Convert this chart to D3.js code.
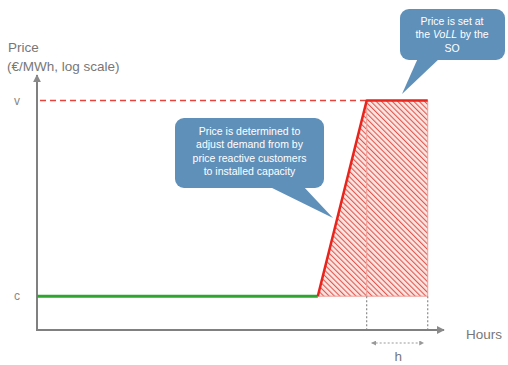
<!DOCTYPE html>
<html>
<head>
<meta charset="utf-8">
<script src="https://cdn.jsdelivr.net/npm/d3@7"></script>
<style>
  body { margin: 0; background: #fff; }
  svg { display: block; font-family: "Liberation Sans", Arial, sans-serif; }
</style>
</head>
<body>
<div id="chart"></div>
<script>
// Stylised price curve: hours on x, price on log scale on y
const axisHours = [0, 100];        // x axis extent
const axisPrice = [10, 10000];     // y axis extent (log)
const priceC = 25;                 // "c"
const priceV = 5000;               // "v"
const flatEnd = 69;                // hours where price leaves c
const rampEnd = 81;                // hours where price reaches v
const capEnd = 96;                 // end of VoLL period
const greenLine = [[0, priceC], [flatEnd, priceC]];
const redLine = [[flatEnd, priceC], [rampEnd, priceV], [capEnd, priceV]];
const hatchArea = [[flatEnd, priceC], [rampEnd, priceV], [capEnd, priceV], [capEnd, priceC]];
const yTicks = [{ label: "v", value: priceV }, { label: "c", value: priceC }];
const note1 = ["Price is determined to", "adjust demand from by", "price reactive customers", "to installed capacity"];
const note2 = [["Price is set at"], ["the ", "VoLL", " by the"], ["SO"]];

const width = 508, height = 365;
const svg = d3.select("#chart").append("svg")
  .attr("width", width).attr("height", height);

const x = d3.scaleLinear().domain(axisHours).range([37, 444]);
const y = d3.scaleLog().domain(axisPrice).range([330, 75]);

const defs = svg.append("defs");
const pw = 3.8;
const pat = defs.append("pattern")
  .attr("id", "hatch").attr("patternUnits", "userSpaceOnUse")
  .attr("width", pw).attr("height", pw)
  .attr("patternTransform", "rotate(-45)");
pat.append("rect").attr("width", pw).attr("height", pw).attr("fill", "#fde6e2");
pat.append("line").attr("x1", 0).attr("y1", 0).attr("x2", 0).attr("y2", pw)
  .attr("stroke", "#dd5850").attr("stroke-width", 2.2);

["arrowGray", "arrowSmall"].forEach((id, i) => {
  defs.append("marker")
    .attr("id", id).attr("viewBox", "0 0 10 10")
    .attr("refX", 9).attr("refY", 5)
    .attr("markerWidth", i ? 5 : 4).attr("markerHeight", i ? 5 : 4)
    .attr("markerUnits", i ? "userSpaceOnUse" : "strokeWidth")
    .attr("orient", "auto-start-reverse")
    .append("path").attr("d", "M0,0 L10,5 L0,10 Z").attr("fill", i ? "#999" : "#8a8a8a");
});

const line = d3.line().x(d => x(d[0])).y(d => y(d[1]));
const gray = "#808080";

// hatched area
svg.append("path").datum(hatchArea)
  .attr("d", line.curve(d3.curveLinearClosed))
  .attr("fill", "url(#hatch)")
  .attr("stroke", "#f19a95").attr("stroke-width", 1);
line.curve(d3.curveLinear);

// faint vertical inside hatch
svg.append("line")
  .attr("x1", x(rampEnd)).attr("x2", x(rampEnd))
  .attr("y1", y(priceV)).attr("y2", y(priceC))
  .attr("stroke", "#f2a29c").attr("stroke-width", 1.2);

// dashed v line
svg.append("line")
  .attr("x1", x(0) + 3).attr("x2", x(rampEnd))
  .attr("y1", y(priceV)).attr("y2", y(priceV))
  .attr("stroke", "#e5433b").attr("stroke-width", 1.5)
  .attr("stroke-dasharray", "6,4");

// gray dashed drop lines
[rampEnd, capEnd].forEach(h => {
  svg.append("line")
    .attr("x1", x(h)).attr("x2", x(h))
    .attr("y1", y(priceC)).attr("y2", y(axisPrice[0]))
    .attr("stroke", "#8a8a8a").attr("stroke-width", 1.2)
    .attr("stroke-dasharray", "2,2");
});

// axes
svg.append("line")
  .attr("x1", x(0)).attr("y1", y(axisPrice[0]))
  .attr("x2", x(0)).attr("y2", y(axisPrice[1]))
  .attr("stroke", gray).attr("stroke-width", 2)
  .attr("marker-end", "url(#arrowGray)");
svg.append("line")
  .attr("x1", x(0) - 1).attr("y1", y(axisPrice[0]))
  .attr("x2", x(axisHours[1])).attr("y2", y(axisPrice[0]))
  .attr("stroke", gray).attr("stroke-width", 2)
  .attr("marker-end", "url(#arrowGray)");

// price lines
svg.append("path").datum(greenLine).attr("d", line)
  .attr("fill", "none").attr("stroke", "#2fa52f").attr("stroke-width", 3);
svg.append("path").datum(redLine).attr("d", line)
  .attr("fill", "none").attr("stroke", "#e8241c").attr("stroke-width", 2.5)
  .attr("stroke-linejoin", "round");

// tick labels
svg.selectAll(".ylab").data(yTicks).enter().append("text")
  .attr("x", 17).attr("y", d => y(d.value) + 4)
  .attr("text-anchor", "middle")
  .attr("fill", "#888").attr("font-size", 12)
  .text(d => d.label);

// axis titles
svg.append("text").attr("x", 8).attr("y", 52).attr("fill", "#777").attr("font-size", 13.5).text("Price");
svg.append("text").attr("x", 7).attr("y", 71).attr("fill", "#777").attr("font-size", 13.5).text("(€/MWh, log scale)");
svg.append("text").attr("x", 466).attr("y", 339).attr("fill", "#777").attr("font-size", 13.5).text("Hours");

// h arrow
svg.append("line")
  .attr("x1", x(rampEnd) + 5).attr("x2", x(capEnd) - 4)
  .attr("y1", 343).attr("y2", 343)
  .attr("stroke", "#999").attr("stroke-width", 1.2)
  .attr("stroke-dasharray", "2,2")
  .attr("marker-start", "url(#arrowSmall)")
  .attr("marker-end", "url(#arrowSmall)");
svg.append("text").attr("x", (x(rampEnd) + x(capEnd)) / 2 + 1).attr("y", 361)
  .attr("text-anchor", "middle").attr("fill", "#777").attr("font-size", 13.5).text("h");

// callouts
const boxFill = "#5f90ba";
function callout(bx, by, bw, bh, tail) {
  const g = svg.append("g");
  g.append("rect").attr("x", bx).attr("y", by).attr("width", bw).attr("height", bh)
    .attr("rx", 9).attr("fill", boxFill);
  g.append("path").attr("d", d3.line()(tail)).attr("fill", boxFill);
  return g;
}

const c1 = callout(175, 118, 149, 70, [[268, 186], [303, 186], [333, 218]]);
note1.forEach((t, i) => {
  c1.append("text").attr("x", 249.5).attr("y", 135 + i * 13.3)
    .attr("text-anchor", "middle").attr("fill", "#fff").attr("font-size", 10.5).text(t);
});

const c2 = callout(400, 9, 105, 51, [[418, 58], [440, 58], [402, 94]]);
note2.forEach((parts, i) => {
  const t = c2.append("text").attr("x", 452).attr("y", 25 + i * 13.3)
    .attr("text-anchor", "middle").attr("fill", "#fff").attr("font-size", 10.5);
  parts.forEach(p => {
    t.append("tspan").text(p).attr("font-style", p === "VoLL" ? "italic" : null);
  });
});
</script>
</body>
</html>
